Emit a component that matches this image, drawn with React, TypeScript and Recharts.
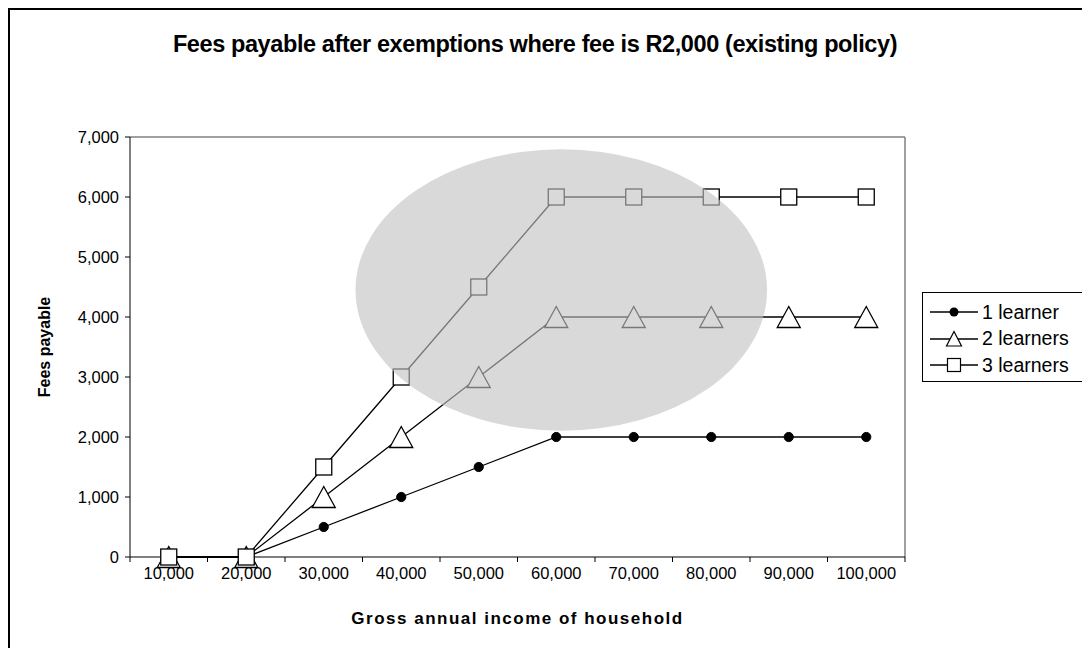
import React from 'react';
import { LineChart, Line, XAxis, YAxis, ReferenceArea, ReferenceLine } from 'recharts';

const incomes = ['10,000', '20,000', '30,000', '40,000', '50,000', '60,000', '70,000', '80,000', '90,000', '100,000'];
const learner1 = [0, 0, 500, 1000, 1500, 2000, 2000, 2000, 2000, 2000];
const learner2 = [0, 0, 1000, 2000, 3000, 4000, 4000, 4000, 4000, 4000];
const learner3 = [0, 0, 1500, 3000, 4500, 6000, 6000, 6000, 6000, 6000];
const seriesNames = ['1 learner', '2 learners', '3 learners'];
const yTicks = [0, 1000, 2000, 3000, 4000, 5000, 6000, 7000];
// highlight ellipse, in data units (x: category position, 1 = first category; y: fees)
const highlightX = [3.41, 8.72];
const highlightY = [2105, 6795];

const FONT = '"Liberation Sans", Arial, sans-serif';

const data = incomes.map((income, i) => ({
  pos: i + 1,
  income,
  l1: learner1[i],
  l2: learner2[i],
  l3: learner3[i],
}));

const xTickPositions: number[] = incomes.flatMap((_, i) => [i + 0.5, i + 1]).concat([incomes.length + 0.5]);

const XTick = (props: any) => {
  const { x, y, payload } = props;
  const v = payload.value as number;
  if (Number.isInteger(v)) {
    return (
      <text x={x} y={y + 22} textAnchor="middle" fontSize={16.5} fill="#000" fontFamily={FONT}>
        {incomes[v - 1]}
      </text>
    );
  }
  return <line x1={x} x2={x} y1={y} y2={y + 5} stroke="#000" strokeWidth={1} />;
};

const Dot1 = (props: any) => {
  const { cx, cy } = props;
  if (cx == null || cy == null) return null;
  return <circle cx={cx} cy={cy} r={4.6} fill="#000" stroke="#000" />;
};
const Dot2 = (props: any) => {
  const { cx, cy } = props;
  if (cx == null || cy == null) return null;
  return (
    <polygon
      points={`${cx},${cy - 10.5} ${cx + 11.5},${cy + 10.5} ${cx - 11.5},${cy + 10.5}`}
      fill="#fff"
      stroke="#000"
      strokeWidth={1.3}
    />
  );
};
const Dot3 = (props: any) => {
  const { cx, cy } = props;
  if (cx == null || cy == null) return null;
  return <rect x={cx - 8} y={cy - 8} width={16} height={16} fill="#fff" stroke="#000" strokeWidth={1.3} />;
};

const EllipseShape = (props: any) => {
  const { x, y, width, height } = props;
  return (
    <ellipse
      cx={x + width / 2}
      cy={y + height / 2}
      rx={Math.abs(width) / 2}
      ry={Math.abs(height) / 2}
      fill="#c1c1c1"
      fillOpacity={0.62}
      stroke="none"
    />
  );
};

const LegendIcon = ({ idx }: { idx: number }) => (
  <svg width={52} height={24} style={{ display: 'block' }}>
    <line x1={2} x2={50} y1={12} y2={12} stroke="#000" strokeWidth={1.3} />
    {idx === 0 && <circle cx={26} cy={12} r={4.5} fill="#000" />}
    {idx === 1 && <polygon points="26,4.5 33.5,19 18.5,19" fill="#fff" stroke="#000" strokeWidth={1.2} />}
    {idx === 2 && <rect x={19.5} y={5.5} width={13} height={13} fill="#fff" stroke="#000" strokeWidth={1.2} />}
  </svg>
);

export default function App() {
  return (
    <div style={{ position: 'relative', width: 1082, height: 640, fontFamily: FONT }}>
      <div
        style={{
          position: 'absolute',
          left: 0,
          top: 0,
          width: 1082,
          height: 640,
          borderLeft: '2px solid #000',
          borderTop: '2px solid #000',
          boxSizing: 'border-box',
        }}
      />
      <div
        style={{
          position: 'absolute',
          left: 0,
          width: 1054,
          top: 23,
          textAlign: 'center',
          fontWeight: 'bold',
          fontSize: 23.5,
          letterSpacing: -0.4,
          color: '#000',
        }}
      >
        Fees payable after exemptions where fee is R2,000 (existing policy)
      </div>
      <LineChart
        width={1082}
        height={640}
        data={data}
        margin={{ top: 129, right: 185, bottom: 61, left: 52 }}
        style={{ position: 'absolute', left: 0, top: 0 }}
      >
        <XAxis
          dataKey="pos"
          type="number"
          domain={[0.5, incomes.length + 0.5]}
          ticks={xTickPositions}
          interval={0}
          tick={<XTick />}
          tickLine={false}
          tickSize={0}
          tickMargin={0}
          axisLine={{ stroke: '#000', strokeWidth: 1 }}
          height={30}
          allowDataOverflow
        />
        <YAxis
          type="number"
          domain={[0, 7000]}
          ticks={yTicks}
          interval={0}
          width={70}
          tickSize={5}
          tickMargin={6}
          tickFormatter={(v: number) => v.toLocaleString('en-US')}
          tick={{ fill: '#000', fontSize: 16.5, fontFamily: FONT }}
          tickLine={{ stroke: '#000' }}
          axisLine={{ stroke: '#000', strokeWidth: 1 }}
        />
        <ReferenceLine y={7000} stroke="#808080" strokeWidth={1.5} />
        <ReferenceLine x={incomes.length + 0.5} stroke="#808080" strokeWidth={1.5} />
        <Line dataKey="l1" name={seriesNames[0]} stroke="#000" strokeWidth={1.3} dot={<Dot1 />} activeDot={false} isAnimationActive={false} />
        <Line dataKey="l2" name={seriesNames[1]} stroke="#000" strokeWidth={1.3} dot={<Dot2 />} activeDot={false} isAnimationActive={false} />
        <Line dataKey="l3" name={seriesNames[2]} stroke="#000" strokeWidth={1.3} dot={<Dot3 />} activeDot={false} isAnimationActive={false} />
        <ReferenceArea
          x1={highlightX[0]}
          x2={highlightX[1]}
          y1={highlightY[0]}
          y2={highlightY[1]}
          shape={<EllipseShape />}
          zIndex={1000}
        />
      </LineChart>
      <div style={{ position: 'absolute', left: 37, top: 339, width: 0, height: 0 }}>
        <div
          style={{
            position: 'absolute',
            transform: 'translate(-50%, -50%) rotate(-90deg)',
            whiteSpace: 'nowrap',
            fontWeight: 'bold',
            fontSize: 16,
          }}
        >
          Fees payable
        </div>
      </div>
      <div
        style={{
          position: 'absolute',
          left: 122,
          width: 775,
          top: 601,
          textAlign: 'center',
          fontWeight: 'bold',
          fontSize: 17,
          letterSpacing: 1.5,
        }}
      >
        Gross annual income of household
      </div>
      <div
        style={{
          position: 'absolute',
          left: 914,
          top: 284,
          width: 168,
          height: 90,
          border: '1px solid #000',
          borderRight: 'none',
          boxSizing: 'border-box',
          paddingTop: 6,
        }}
      >
        {seriesNames.map((name, i) => (
          <div key={name} style={{ display: 'flex', alignItems: 'center', height: 26.5, marginLeft: 5 }}>
            <LegendIcon idx={i} />
            <span style={{ fontSize: 19.5, marginLeft: 2, whiteSpace: 'nowrap' }}>{name}</span>
          </div>
        ))}
      </div>
    </div>
  );
}
